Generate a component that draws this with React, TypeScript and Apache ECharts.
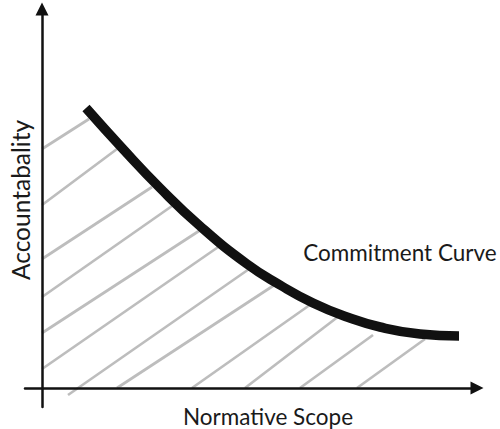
import React, { useEffect, useRef } from "react";
import * as echarts from "echarts";

// Curve points (x: normative scope, y: accountability)
const curveX = [44, 81, 118, 158, 205, 238, 271, 305, 338, 378, 417];
const curveY = [280, 239, 200, 162, 124, 103, 85, 71, 61, 54, 52];

// Hatch strokes under the curve (start and end points)
const hatchStartX = [0, 0, 0, 0, 0, 0, 26, 75, 150, 203, 258, 315];
const hatchStartY = [239, 183, 129, 91, 55, 19, -7, 0, 0, 0, 0, 0];
const hatchEndX = [47, 75, 110, 130, 160, 182, 210, 237, 272, 297, 331, 383];
const hatchEndY = [269, 239, 201, 182, 159, 145, 121, 106, 86, 72, 53, 49];

const xRange = [-17, 435];
const yRange = [-19, 379];

const xAxisTitle = "Normative Scope";
const yAxisTitle = "Accountabality";
const curveLabel = "Commitment Curve";

export default function App() {
  const ref = useRef<HTMLDivElement>(null);
  useEffect(() => {
    if (!ref.current) return;
    const chart = echarts.init(ref.current, undefined, { renderer: "svg" });
    const curveData = curveX.map((x, i) => [x, curveY[i]]);
    const hatchData = hatchStartX.map((x, i) => ({
      coords: [
        [x, hatchStartY[i]],
        [hatchEndX[i], hatchEndY[i]],
      ],
    }));
    const axisLine = {
      show: true,
      onZero: true,
      symbol: ["none", "triangle"],
      symbolSize: [13, 13],
      lineStyle: { color: "#111", width: 2.5 },
    };
    const textStyle = {
      fontFamily: "Lato",
      fill: "#1a1a1a",
      align: "center",
      verticalAlign: "middle",
    };
    chart.setOption({
      animation: false,
      backgroundColor: "#fff",
      grid: { left: 25, right: 23, top: 9, bottom: 22, containLabel: false },
      xAxis: {
        type: "value",
        min: xRange[0],
        max: xRange[1],
        axisLine,
        axisTick: { show: false },
        axisLabel: { show: false },
        splitLine: { show: false },
        z: 5,
      },
      yAxis: {
        type: "value",
        min: yRange[0],
        max: yRange[1],
        axisLine,
        axisTick: { show: false },
        axisLabel: { show: false },
        splitLine: { show: false },
        z: 5,
      },
      series: [
        {
          type: "lines",
          coordinateSystem: "cartesian2d",
          data: hatchData,
          lineStyle: { color: "#bdbdbd", width: 2.7, opacity: 1 },
          z: 2,
          silent: true,
        },
        {
          type: "line",
          data: curveData,
          smooth: 0.5,
          symbol: "none",
          lineStyle: { color: "#111", width: 9.5, cap: "butt" },
          z: 10,
          silent: true,
        },
      ],
      graphic: [
        {
          type: "text",
          x: 400,
          y: 252,
          style: { ...textStyle, text: curveLabel, fontSize: 22.5 },
        },
        {
          type: "text",
          x: 268,
          y: 416,
          style: { ...textStyle, text: xAxisTitle, fontSize: 22.5 },
        },
        {
          type: "text",
          x: 20,
          y: 200,
          rotation: Math.PI / 2,
          style: { ...textStyle, text: yAxisTitle, fontSize: 24.5 },
        },
      ],
    });
    return () => chart.dispose();
  }, []);
  return (
    <div
      ref={ref}
      style={{ position: "fixed", left: 0, top: 0, width: 500, height: 429, background: "#fff" }}
    />
  );
}
